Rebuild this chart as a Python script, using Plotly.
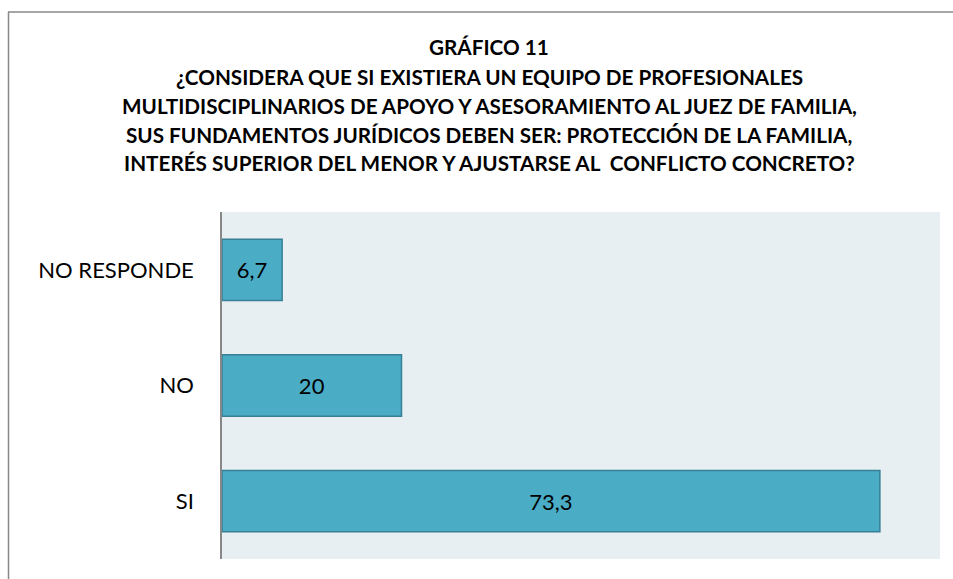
import plotly.graph_objects as go

categories = ["SI", "NO", "NO RESPONDE"]
values = [73.3, 20, 6.7]
title_lines = [
    "GRÁFICO 11",
    "¿CONSIDERA QUE SI EXISTIERA UN EQUIPO DE PROFESIONALES",
    "MULTIDISCIPLINARIOS DE APOYO Y ASESORAMIENTO AL JUEZ DE FAMILIA,",
    "SUS FUNDAMENTOS JURÍDICOS DEBEN SER: PROTECCIÓN DE LA FAMILIA,",
    "INTERÉS SUPERIOR DEL MENOR Y AJUSTARSE AL  CONFLICTO CONCRETO?",
]

W, H = 953, 579
# plot area in screen pixels: x 222..940, y 212..559
ML, MT = 222, 212
MR = W - 940
MB = H - 559
PW = W - ML - MR
PH = H - MT - MB


def px_x(x):
    return (x - ML) / PW


def px_y(y):
    return (H - MB - y) / PH


labels = [f"{v:g}".replace(".", ",") for v in values]

fig = go.Figure(
    go.Bar(
        y=categories,
        x=values,
        orientation="h",
        text=labels,
        textposition="inside",
        insidetextanchor="middle",
        textangle=0,
        textfont=dict(family="Lato, sans-serif", size=22, color="#000000"),
        marker=dict(color="#4BACC6", line=dict(color="#367F94", width=1.5)),
        width=0.53,
        hoverinfo="skip",
    )
)

title_y = [47, 77, 106, 135, 163]
for t, yy in zip(title_lines, title_y):
    fig.add_annotation(
        text=f"<b>{t}</b>",
        x=px_x(489),
        y=px_y(yy),
        xref="paper",
        yref="paper",
        xanchor="center",
        yanchor="middle",
        showarrow=False,
        font=dict(family="Lato, sans-serif", size=20.7, color="#000000"),
    )

# outer frame: top and left edges visible in the reference
fig.add_shape(
    type="line", xref="paper", yref="paper",
    x0=px_x(8), x1=px_x(W + 10), y0=px_y(12), y1=px_y(12),
    line=dict(color="#888888", width=1.5), layer="below",
)
fig.add_shape(
    type="line", xref="paper", yref="paper",
    x0=px_x(8.5), x1=px_x(8.5), y0=px_y(12), y1=px_y(H + 10),
    line=dict(color="#888888", width=1.5), layer="below",
)

fig.update_layout(
    width=W,
    height=H,
    margin=dict(l=ML, r=MR, t=MT, b=MB, pad=0),
    paper_bgcolor="#FFFFFF",
    plot_bgcolor="#E8EFF3",
    showlegend=False,
    font=dict(family="Lato, sans-serif", size=22, color="#000000"),
    xaxis=dict(
        range=[0, 80],
        visible=False,
        showgrid=False,
        zeroline=False,
        fixedrange=True,
    ),
    yaxis=dict(
        categoryorder="array",
        categoryarray=categories,
        range=[-0.5, 2.5],
        showline=True,
        linecolor="#888888",
        linewidth=1.5,
        showgrid=False,
        zeroline=False,
        ticks="",
        ticklabelstandoff=22,
        tickfont=dict(family="Lato, sans-serif", size=22, color="#000000"),
    ),
)

fig.write_html(
    "out.html",
    config={"displayModeBar": False},
    post_script="document.body.style.margin='0';document.body.style.overflow='hidden';",
)
